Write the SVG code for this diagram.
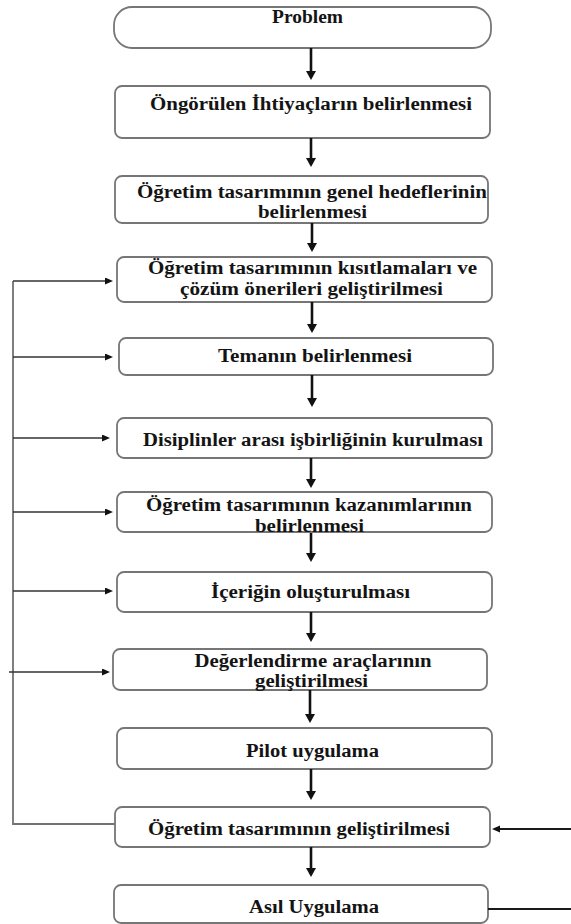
<svg xmlns="http://www.w3.org/2000/svg" width="571" height="924" viewBox="0 0 571 924">
  <style>
    .box { fill: #ffffff; stroke: #767676; stroke-width: 1.8; }
    .lbl { font-family: "Liberation Serif", "Times New Roman", serif; font-weight: bold; font-size: 18px; fill: #141414; text-anchor: middle; }
    .flow { stroke: #111111; stroke-width: 2.6; fill: none; }
    .side { stroke: #333333; stroke-width: 1.7; fill: none; }
    .loop { stroke: #727272; stroke-width: 1.8; fill: none; }
    .feed { stroke: #1a1a1a; stroke-width: 2.2; fill: none; }
  </style>
  <defs>
    <marker id="headBig" markerUnits="userSpaceOnUse" markerWidth="12" markerHeight="12" refX="3" refY="5" orient="auto">
      <path d="M0,0 L9,5 L0,10 z" fill="#111111"/>
    </marker>
    <marker id="headSmall" markerUnits="userSpaceOnUse" markerWidth="10" markerHeight="10" refX="2" refY="3.5" orient="auto">
      <path d="M0,0 L8,3.5 L0,7 z" fill="#111111"/>
    </marker>
  </defs>

  <rect width="571" height="924" fill="#ffffff"/>

  <!-- process steps -->
  <g id="n-problem">
    <rect class="box" x="114" y="7" width="377" height="41" rx="18"/>
    <text class="lbl" x="307.5" y="23" textLength="71" lengthAdjust="spacingAndGlyphs">Problem</text>
  </g>
  <g id="n-ihtiyac">
    <rect class="box" x="115" y="86" width="375" height="52" rx="7"/>
    <text class="lbl" x="311" y="110" textLength="322" lengthAdjust="spacingAndGlyphs">Öngörülen İhtiyaçların belirlenmesi</text>
  </g>
  <g id="n-hedef">
    <rect class="box" x="115" y="176" width="373" height="47" rx="7"/>
    <text class="lbl" x="312" y="197.5" textLength="350" lengthAdjust="spacingAndGlyphs">Öğretim tasarımının genel hedeflerinin</text>
    <text class="lbl" x="312.5" y="218" textLength="109" lengthAdjust="spacingAndGlyphs">belirlenmesi</text>
  </g>
  <g id="n-kisit">
    <rect class="box" x="117" y="257" width="375" height="45" rx="7"/>
    <text class="lbl" x="312.5" y="274" textLength="329" lengthAdjust="spacingAndGlyphs">Öğretim tasarımının kısıtlamaları ve</text>
    <text class="lbl" x="311.5" y="294.5" textLength="263" lengthAdjust="spacingAndGlyphs">çözüm önerileri geliştirilmesi</text>
  </g>
  <g id="n-tema">
    <rect class="box" x="119" y="338" width="374" height="37" rx="7"/>
    <text class="lbl" x="315" y="361.5" textLength="194" lengthAdjust="spacingAndGlyphs">Temanın belirlenmesi</text>
  </g>
  <g id="n-isbirligi">
    <rect class="box" x="117" y="418" width="375" height="40" rx="7"/>
    <text class="lbl" x="313" y="445.5" textLength="340" lengthAdjust="spacingAndGlyphs">Disiplinler arası işbirliğinin kurulması</text>
  </g>
  <g id="n-kazanim">
    <rect class="box" x="117" y="492" width="375" height="40" rx="7"/>
    <text class="lbl" x="309" y="510.5" textLength="326" lengthAdjust="spacingAndGlyphs">Öğretim tasarımının kazanımlarının</text>
    <text class="lbl" x="309.5" y="532" textLength="109" lengthAdjust="spacingAndGlyphs">belirlenmesi</text>
  </g>
  <g id="n-icerik">
    <rect class="box" x="117" y="572" width="375" height="40" rx="7"/>
    <text class="lbl" x="310.5" y="597.5" textLength="199" lengthAdjust="spacingAndGlyphs">İçeriğin oluşturulması</text>
  </g>
  <g id="n-degerlendirme">
    <rect class="box" x="113" y="649" width="374" height="41" rx="7"/>
    <text class="lbl" x="313" y="666.5" textLength="237" lengthAdjust="spacingAndGlyphs">Değerlendirme araçlarının</text>
    <text class="lbl" x="311.5" y="687" textLength="113" lengthAdjust="spacingAndGlyphs">geliştirilmesi</text>
  </g>
  <g id="n-pilot">
    <rect class="box" x="117" y="728" width="375" height="41" rx="7"/>
    <text class="lbl" x="312.5" y="756.5" textLength="133" lengthAdjust="spacingAndGlyphs">Pilot uygulama</text>
  </g>
  <g id="n-gelistirme">
    <rect class="box" x="115" y="807" width="375" height="40" rx="7"/>
    <text class="lbl" x="299" y="835" textLength="302" lengthAdjust="spacingAndGlyphs">Öğretim tasarımının geliştirilmesi</text>
  </g>
  <g id="n-asil">
    <rect class="box" x="114" y="885" width="374" height="38" rx="7"/>
    <text class="lbl" x="314" y="913" textLength="130" lengthAdjust="spacingAndGlyphs">Asıl Uygulama</text>
  </g>

  <!-- connectors -->
  <g id="connectors">
    <!-- main downward flow -->
    <line class="flow" x1="311" y1="48" x2="311" y2="74" marker-end="url(#headBig)"/>
    <line class="flow" x1="311" y1="138" x2="311" y2="161" marker-end="url(#headBig)"/>
    <line class="flow" x1="312" y1="223" x2="312" y2="246" marker-end="url(#headBig)"/>
    <line class="flow" x1="312" y1="302" x2="312" y2="327" marker-end="url(#headBig)"/>
    <line class="flow" x1="312" y1="375" x2="312" y2="401" marker-end="url(#headBig)"/>
    <line class="flow" x1="311" y1="458" x2="311" y2="482" marker-end="url(#headBig)"/>
    <line class="flow" x1="311" y1="533" x2="311" y2="556" marker-end="url(#headBig)"/>
    <line class="flow" x1="311" y1="612" x2="311" y2="636" marker-end="url(#headBig)"/>
    <line class="flow" x1="310" y1="690" x2="310" y2="717" marker-end="url(#headBig)"/>
    <line class="flow" x1="311" y1="769" x2="311" y2="794" marker-end="url(#headBig)"/>
    <line class="flow" x1="311" y1="847" x2="311" y2="871" marker-end="url(#headBig)"/>

    <!-- feedback loop on the left -->
    <polyline class="loop" points="115,824 13,824 13,281"/>
    <line class="side" x1="13" y1="281" x2="107" y2="281" marker-end="url(#headSmall)"/>
    <line class="side" x1="13" y1="357" x2="107" y2="357" marker-end="url(#headSmall)"/>
    <line class="side" x1="13" y1="438" x2="104" y2="438" marker-end="url(#headSmall)"/>
    <line class="side" x1="13" y1="512" x2="107" y2="512" marker-end="url(#headSmall)"/>
    <line class="side" x1="13" y1="591" x2="107" y2="591" marker-end="url(#headSmall)"/>
    <line class="side" x1="9" y1="672" x2="104" y2="672" marker-end="url(#headSmall)"/>

    <!-- feedback from the right -->
    <line class="feed" x1="571" y1="829" x2="498" y2="829" marker-end="url(#headSmall)"/>
    <line class="feed" x1="488" y1="909" x2="571" y2="909"/>
  </g>
</svg>
